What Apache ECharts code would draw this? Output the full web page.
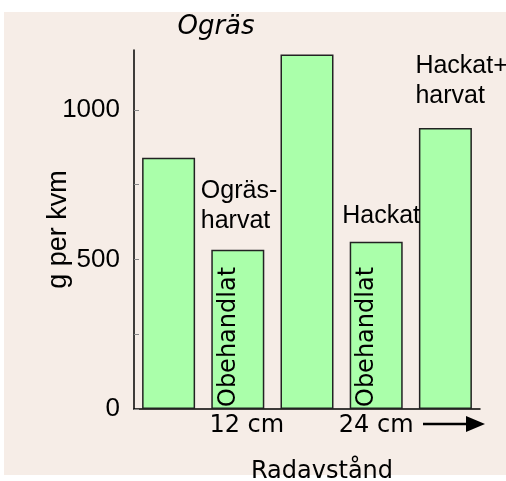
<!DOCTYPE html>
<html>
<head>
<meta charset="utf-8">
<script src="https://cdn.jsdelivr.net/npm/echarts@6/dist/echarts.min.js"></script>
<style>
  html, body { margin: 0; padding: 0; background: #fff; }
  #chart { width: 506px; height: 481px; }
</style>
</head>
<body>
<div id="chart"></div>
<script>
// data
const categories = ['', '12 cm', '', '24 cm', ''];
const values = [840, 532, 1185, 559, 939];
const topLabels = ['', 'Ogräs-\nharvat', '', 'Hackat', 'Hackat+\nharvat'];
const innerLabels = ['', 'Obehandlat', '', 'Obehandlat', ''];
const yLabelValues = [0, 500, 1000];
const yTickValues = [0, 250, 500, 750, 1000];

const comic = 'DejaVu Sans';
const arial = 'Liberation Sans';

// label nudges (layout only)
const labelDx = [0, -37, 0, -34, -30];
const labelDist = [0, 14, 0, 11, 17];

const chart = echarts.init(document.getElementById('chart'));

const barData = values.map((v, i) => {
  const item = { value: v };
  if (topLabels[i]) {
    item.label = {
      show: true,
      position: 'top',
      formatter: topLabels[i],
      align: 'left',
      offset: [labelDx[i], 0],
      distance: labelDist[i],
      fontFamily: arial,
      fontSize: 25,
      lineHeight: 30,
      color: '#000'
    };
  }
  return item;
});

// offset is in the rotated frame: [along text, across text]
const innerData = values.map((v, i) => {
  const item = { value: v };
  if (innerLabels[i]) {
    item.label = {
      show: true,
      position: 'insideBottom',
      rotate: 90,
      align: 'left',
      verticalAlign: 'middle',
      distance: 6,
      offset: [-4, -9],
      formatter: innerLabels[i],
      fontFamily: comic,
      fontSize: 24,
      color: '#000'
    };
  }
  return item;
});

const options = {
  backgroundColor: '#ffffff',
  animation: false,
  title: {
    text: 'Ogräs',
    left: 211,
    textAlign: 'center',
    top: 9,
    textStyle: { fontFamily: comic, fontStyle: 'italic', fontWeight: 'normal', fontSize: 26, color: '#000' }
  },
  graphic: [
    { type: 'rect', z: -10, silent: true, shape: { x: 4, y: 12, width: 502, height: 463 }, style: { fill: '#f6ede7' } },
    { type: 'line', shape: { x1: 423, y1: 424, x2: 472, y2: 424 }, style: { stroke: '#000', lineWidth: 2.5 } },
    { type: 'polygon', shape: { points: [[485, 424], [466, 416], [466, 432]] }, style: { fill: '#000' } }
  ],
  grid: { left: 134, right: 26, top: 50, bottom: 72, outerBoundsMode: 'none' },
  xAxis: {
    type: 'category',
    data: categories,
    name: 'Radavstånd',
    nameLocation: 'middle',
    nameGap: 51,
    nameMoveOverlap: false,
    nameTextStyle: { fontFamily: comic, fontSize: 24, color: '#000', padding: [0, 0, 0, 30] },
    axisLine: { lineStyle: { color: '#000', width: 1.5 } },
    axisTick: { show: false },
    axisLabel: {
      interval: 0,
      margin: 5,
      fontFamily: comic,
      fontSize: 24,
      color: '#000',
      formatter: (v) => v === '12 cm' ? '{s|' + v + '}' : v,
      rich: { s: { fontFamily: comic, fontSize: 24, color: '#000', padding: [0, 0, 0, 18] } }
    },
    splitLine: { show: false }
  },
  yAxis: {
    type: 'value',
    min: 0,
    max: 1200,
    name: 'g per kvm',
    nameLocation: 'middle',
    nameRotate: 90,
    nameGap: 62,
    nameMoveOverlap: false,
    nameTextStyle: { fontFamily: arial, fontSize: 27, color: '#000' },
    axisLine: { show: true, lineStyle: { color: '#000', width: 1.5 } },
    axisTick: { show: true, inside: true, length: 5, lineStyle: { color: '#888' }, customValues: yTickValues },
    axisLabel: {
      margin: 14, fontFamily: arial, fontSize: 26, color: '#000',
      customValues: yLabelValues,
      formatter: (v) => String(v)
    },
    splitLine: { show: false }
  },
  series: [
    {
      type: 'bar',
      data: barData,
      barWidth: 53,
      itemStyle: { color: '#aaffaa', borderColor: '#222', borderWidth: 1.5 }
    },
    {
      type: 'bar',
      data: innerData,
      barWidth: 53,
      barGap: '-100%',
      itemStyle: { color: 'transparent', borderWidth: 0 },
      z: 3
    }
  ]
};

chart.setOption(options);
window.addEventListener('resize', () => chart.resize());
</script>
</body>
</html>
